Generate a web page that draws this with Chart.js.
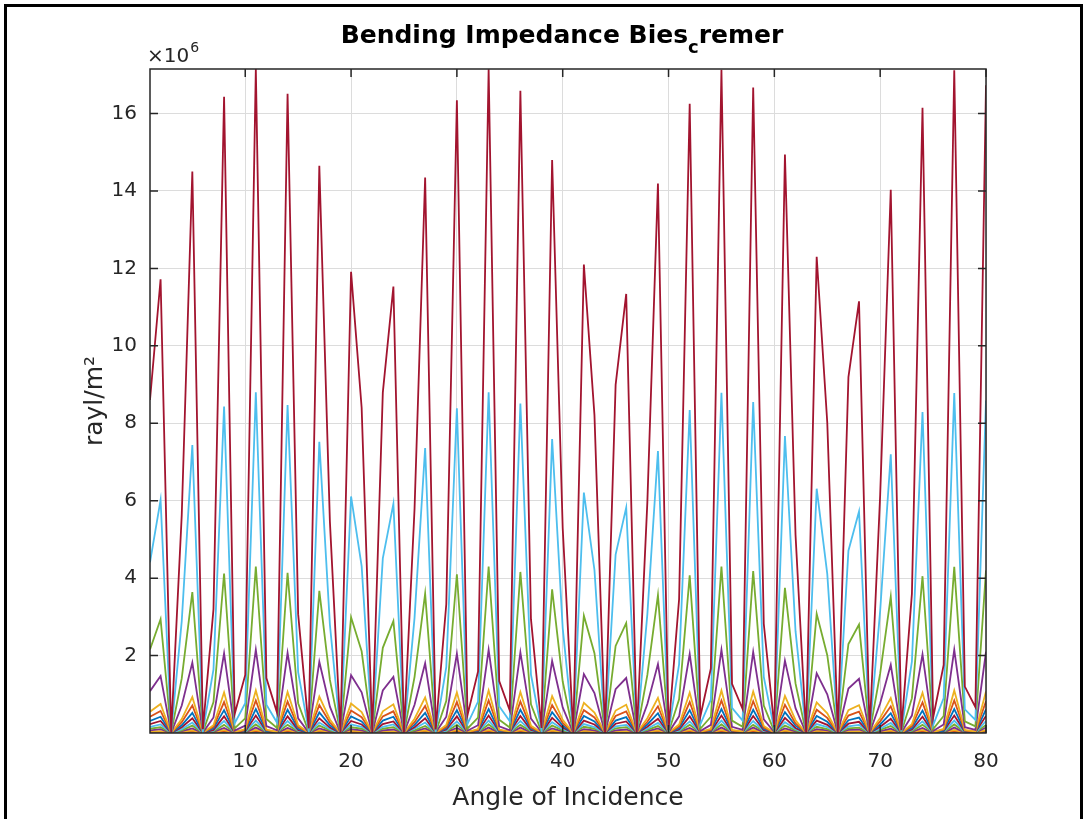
<!DOCTYPE html>
<html>
<head>
<meta charset="utf-8">
<title>Bending Impedance Bies-Cremer</title>
<script src="https://cdn.jsdelivr.net/npm/chart.js"></script>
<style>
  html, body { margin: 0; padding: 0; background: #fff; }
  #wrap { position: relative; width: 1086px; height: 819px; overflow: hidden; }
  #myChart { position: absolute; left: 0; top: 0; }
  #frame { position: absolute; left: 4px; top: 4px; width: 1073px; height: 830px;
           border: 3px solid #000; border-bottom: none; pointer-events: none; }
</style>
</head>
<body>
<div id="wrap">
  <canvas id="myChart" width="1086" height="819"></canvas>
  <div id="frame"></div>
</div>
<script>
// angle of incidence (x axis)
const angles = [
  1, 2, 3, 4, 5, 6, 7, 8, 9, 10,
  11, 12, 13, 14, 15, 16, 17, 18, 19, 20,
  21, 22, 23, 24, 25, 26, 27, 28, 29, 30,
  31, 32, 33, 34, 35, 36, 37, 38, 39, 40,
  41, 42, 43, 44, 45, 46, 47, 48, 49, 50,
  51, 52, 53, 54, 55, 56, 57, 58, 59, 60,
  61, 62, 63, 64, 65, 66, 67, 68, 69, 70,
  71, 72, 73, 74, 75, 76, 77, 78, 79, 80
];

const xTicks = [10, 20, 30, 40, 50, 60, 70, 80];
const yTicks = [2, 4, 6, 8, 10, 12, 14, 16];

// impedance curves, in units of 1e6 rayl/m^2 (z1 smallest ... z14 largest)
const z14 = [
  8.60, 11.72, 0.01, 5.63, 14.50, 0.10, 3.20, 16.43, 0.49, 1.50,
  17.15, 1.42, 0.53, 16.51, 3.07, 0.12, 14.65, 5.46, 0.01, 11.91,
  8.40, 0.00, 8.79, 11.53, 0.01, 5.80, 14.35, 0.09, 3.33, 16.34,
  0.46, 1.59, 17.14, 1.34, 0.58, 16.59, 2.94, 0.13, 14.80, 5.29,
  0.01, 12.10, 8.21, 0.00, 8.99, 11.34, 0.00, 5.97, 14.19, 0.08,
  3.46, 16.25, 0.42, 1.67, 17.13, 1.27, 0.62, 16.67, 2.82, 0.15,
  14.94, 5.12, 0.01, 12.30, 8.02, 0.00, 9.19, 11.15, 0.00, 6.15,
  14.03, 0.07, 3.60, 16.15, 0.39, 1.76, 17.12, 1.20, 0.67, 16.73
];
const z13 = [
  4.41, 6.02, 0.00, 2.89, 7.44, 0.05, 1.64, 8.43, 0.25, 0.77,
  8.80, 0.73, 0.27, 8.47, 1.57, 0.06, 7.52, 2.80, 0.00, 6.11,
  4.31, 0.00, 4.51, 5.92, 0.00, 2.98, 7.36, 0.05, 1.71, 8.39,
  0.23, 0.81, 8.80, 0.69, 0.30, 8.51, 1.51, 0.07, 7.59, 2.71,
  0.01, 6.21, 4.21, 0.00, 4.61, 5.82, 0.00, 3.07, 7.28, 0.04,
  1.78, 8.34, 0.22, 0.86, 8.79, 0.65, 0.32, 8.55, 1.45, 0.08,
  7.67, 2.63, 0.01, 6.31, 4.11, 0.00, 4.71, 5.72, 0.00, 3.16,
  7.20, 0.04, 1.85, 8.29, 0.20, 0.90, 8.78, 0.61, 0.34, 8.59
];
const z12 = [
  2.16, 2.94, 0.00, 1.41, 3.64, 0.03, 0.80, 4.12, 0.12, 0.38,
  4.30, 0.36, 0.13, 4.14, 0.77, 0.03, 3.67, 1.37, 0.00, 2.99,
  2.11, 0.00, 2.20, 2.89, 0.00, 1.45, 3.60, 0.02, 0.83, 4.10,
  0.11, 0.40, 4.30, 0.34, 0.14, 4.16, 0.74, 0.03, 3.71, 1.33,
  0.00, 3.03, 2.06, 0.00, 2.25, 2.84, 0.00, 1.50, 3.56, 0.02,
  0.87, 4.07, 0.11, 0.42, 4.30, 0.32, 0.16, 4.18, 0.71, 0.04,
  3.75, 1.28, 0.00, 3.08, 2.01, 0.00, 2.30, 2.80, 0.00, 1.54,
  3.52, 0.02, 0.90, 4.05, 0.10, 0.44, 4.29, 0.30, 0.17, 4.20
];
const z11 = [
  1.08, 1.47, 0.00, 0.71, 1.82, 0.01, 0.40, 2.06, 0.06, 0.19,
  2.15, 0.18, 0.07, 2.07, 0.38, 0.01, 1.84, 0.68, 0.00, 1.49,
  1.05, 0.00, 1.10, 1.45, 0.00, 0.73, 1.80, 0.01, 0.42, 2.05,
  0.06, 0.20, 2.15, 0.17, 0.07, 2.08, 0.37, 0.02, 1.86, 0.66,
  0.00, 1.52, 1.03, 0.00, 1.13, 1.42, 0.00, 0.75, 1.78, 0.01,
  0.43, 2.04, 0.05, 0.21, 2.15, 0.16, 0.08, 2.09, 0.35, 0.02,
  1.87, 0.64, 0.00, 1.54, 1.00, 0.00, 1.15, 1.40, 0.00, 0.77,
  1.76, 0.01, 0.45, 2.03, 0.05, 0.22, 2.15, 0.15, 0.08, 2.10
];
const z10 = [
  0.55, 0.75, 0.00, 0.36, 0.93, 0.01, 0.20, 1.05, 0.03, 0.10,
  1.10, 0.09, 0.03, 1.06, 0.20, 0.01, 0.94, 0.35, 0.00, 0.76,
  0.54, 0.00, 0.56, 0.74, 0.00, 0.37, 0.92, 0.01, 0.21, 1.05,
  0.03, 0.10, 1.10, 0.09, 0.04, 1.06, 0.19, 0.01, 0.95, 0.34,
  0.00, 0.78, 0.53, 0.00, 0.58, 0.73, 0.00, 0.38, 0.91, 0.01,
  0.22, 1.04, 0.03, 0.11, 1.10, 0.08, 0.04, 1.07, 0.18, 0.01,
  0.96, 0.33, 0.00, 0.79, 0.51, 0.00, 0.59, 0.72, 0.00, 0.39,
  0.90, 0.00, 0.23, 1.04, 0.02, 0.11, 1.10, 0.08, 0.04, 1.07
];
const z9 = [
  0.42, 0.57, 0.00, 0.28, 0.71, 0.01, 0.16, 0.80, 0.02, 0.07,
  0.84, 0.07, 0.03, 0.81, 0.15, 0.01, 0.72, 0.27, 0.00, 0.58,
  0.41, 0.00, 0.43, 0.56, 0.00, 0.28, 0.70, 0.00, 0.16, 0.80,
  0.02, 0.08, 0.84, 0.07, 0.03, 0.81, 0.14, 0.01, 0.72, 0.26,
  0.00, 0.59, 0.40, 0.00, 0.44, 0.56, 0.00, 0.29, 0.69, 0.00,
  0.17, 0.80, 0.02, 0.08, 0.84, 0.06, 0.03, 0.82, 0.14, 0.01,
  0.73, 0.25, 0.00, 0.60, 0.39, 0.00, 0.45, 0.55, 0.00, 0.30,
  0.69, 0.00, 0.18, 0.79, 0.02, 0.09, 0.84, 0.06, 0.03, 0.82
];
const z8 = [
  0.31, 0.42, 0.00, 0.20, 0.52, 0.00, 0.12, 0.59, 0.02, 0.05,
  0.62, 0.05, 0.02, 0.60, 0.11, 0.00, 0.53, 0.20, 0.00, 0.43,
  0.30, 0.00, 0.32, 0.42, 0.00, 0.21, 0.52, 0.00, 0.12, 0.59,
  0.02, 0.06, 0.62, 0.05, 0.02, 0.60, 0.11, 0.00, 0.54, 0.19,
  0.00, 0.44, 0.30, 0.00, 0.32, 0.41, 0.00, 0.22, 0.51, 0.00,
  0.13, 0.59, 0.02, 0.06, 0.62, 0.05, 0.02, 0.60, 0.10, 0.01,
  0.54, 0.19, 0.00, 0.44, 0.29, 0.00, 0.33, 0.40, 0.00, 0.22,
  0.51, 0.00, 0.13, 0.58, 0.01, 0.06, 0.62, 0.04, 0.02, 0.61
];
const z7 = [
  0.23, 0.31, 0.00, 0.15, 0.38, 0.00, 0.08, 0.43, 0.01, 0.04,
  0.45, 0.04, 0.01, 0.43, 0.08, 0.00, 0.38, 0.14, 0.00, 0.31,
  0.22, 0.00, 0.23, 0.30, 0.00, 0.15, 0.38, 0.00, 0.09, 0.43,
  0.01, 0.04, 0.45, 0.04, 0.02, 0.44, 0.08, 0.00, 0.39, 0.14,
  0.00, 0.32, 0.22, 0.00, 0.24, 0.30, 0.00, 0.16, 0.37, 0.00,
  0.09, 0.43, 0.01, 0.04, 0.45, 0.03, 0.02, 0.44, 0.07, 0.00,
  0.39, 0.13, 0.00, 0.32, 0.21, 0.00, 0.24, 0.29, 0.00, 0.16,
  0.37, 0.00, 0.09, 0.42, 0.01, 0.05, 0.45, 0.03, 0.02, 0.44
];
const z6 = [
  0.16, 0.22, 0.00, 0.10, 0.27, 0.00, 0.06, 0.31, 0.01, 0.03,
  0.32, 0.03, 0.01, 0.31, 0.06, 0.00, 0.27, 0.10, 0.00, 0.22,
  0.16, 0.00, 0.16, 0.22, 0.00, 0.11, 0.27, 0.00, 0.06, 0.30,
  0.01, 0.03, 0.32, 0.02, 0.01, 0.31, 0.06, 0.00, 0.28, 0.10,
  0.00, 0.23, 0.15, 0.00, 0.17, 0.21, 0.00, 0.11, 0.26, 0.00,
  0.06, 0.30, 0.01, 0.03, 0.32, 0.02, 0.01, 0.31, 0.05, 0.00,
  0.28, 0.10, 0.00, 0.23, 0.15, 0.00, 0.17, 0.21, 0.00, 0.11,
  0.26, 0.00, 0.07, 0.30, 0.01, 0.03, 0.32, 0.02, 0.01, 0.31
];
const z5 = [
  0.11, 0.15, 0.00, 0.07, 0.19, 0.00, 0.04, 0.21, 0.01, 0.02,
  0.22, 0.02, 0.01, 0.21, 0.04, 0.00, 0.19, 0.07, 0.00, 0.15,
  0.11, 0.00, 0.11, 0.15, 0.00, 0.07, 0.18, 0.00, 0.04, 0.21,
  0.01, 0.02, 0.22, 0.02, 0.01, 0.21, 0.04, 0.00, 0.19, 0.07,
  0.00, 0.16, 0.11, 0.00, 0.12, 0.15, 0.00, 0.08, 0.18, 0.00,
  0.04, 0.21, 0.01, 0.02, 0.22, 0.02, 0.01, 0.21, 0.04, 0.00,
  0.19, 0.07, 0.00, 0.16, 0.10, 0.00, 0.12, 0.14, 0.00, 0.08,
  0.18, 0.00, 0.05, 0.21, 0.01, 0.02, 0.22, 0.02, 0.01, 0.21
];
const z4 = [
  0.07, 0.10, 0.00, 0.05, 0.12, 0.00, 0.03, 0.13, 0.00, 0.01,
  0.14, 0.01, 0.00, 0.13, 0.03, 0.00, 0.12, 0.04, 0.00, 0.10,
  0.07, 0.00, 0.07, 0.09, 0.00, 0.05, 0.12, 0.00, 0.03, 0.13,
  0.00, 0.01, 0.14, 0.01, 0.00, 0.14, 0.02, 0.00, 0.12, 0.04,
  0.00, 0.10, 0.07, 0.00, 0.07, 0.09, 0.00, 0.05, 0.12, 0.00,
  0.03, 0.13, 0.00, 0.01, 0.14, 0.01, 0.01, 0.14, 0.02, 0.00,
  0.12, 0.04, 0.00, 0.10, 0.07, 0.00, 0.08, 0.09, 0.00, 0.05,
  0.11, 0.00, 0.03, 0.13, 0.00, 0.01, 0.14, 0.01, 0.01, 0.14
];
const z3 = [
  0.04, 0.05, 0.00, 0.03, 0.07, 0.00, 0.01, 0.08, 0.00, 0.01,
  0.08, 0.01, 0.00, 0.08, 0.01, 0.00, 0.07, 0.03, 0.00, 0.06,
  0.04, 0.00, 0.04, 0.05, 0.00, 0.03, 0.07, 0.00, 0.02, 0.08,
  0.00, 0.01, 0.08, 0.01, 0.00, 0.08, 0.01, 0.00, 0.07, 0.02,
  0.00, 0.06, 0.04, 0.00, 0.04, 0.05, 0.00, 0.03, 0.07, 0.00,
  0.02, 0.08, 0.00, 0.01, 0.08, 0.01, 0.00, 0.08, 0.01, 0.00,
  0.07, 0.02, 0.00, 0.06, 0.04, 0.00, 0.04, 0.05, 0.00, 0.03,
  0.07, 0.00, 0.02, 0.08, 0.00, 0.01, 0.08, 0.01, 0.00, 0.08
];
const z2 = [
  0.03, 0.03, 0.00, 0.02, 0.04, 0.00, 0.01, 0.05, 0.00, 0.00,
  0.05, 0.00, 0.00, 0.05, 0.01, 0.00, 0.04, 0.02, 0.00, 0.03,
  0.02, 0.00, 0.03, 0.03, 0.00, 0.02, 0.04, 0.00, 0.01, 0.05,
  0.00, 0.00, 0.05, 0.00, 0.00, 0.05, 0.01, 0.00, 0.04, 0.02,
  0.00, 0.04, 0.02, 0.00, 0.03, 0.03, 0.00, 0.02, 0.04, 0.00,
  0.01, 0.05, 0.00, 0.00, 0.05, 0.00, 0.00, 0.05, 0.01, 0.00,
  0.04, 0.01, 0.00, 0.04, 0.02, 0.00, 0.03, 0.03, 0.00, 0.02,
  0.04, 0.00, 0.01, 0.05, 0.00, 0.01, 0.05, 0.00, 0.00, 0.05
];
const z1 = [
  0.02, 0.02, 0.00, 0.01, 0.03, 0.00, 0.01, 0.03, 0.00, 0.00,
  0.03, 0.00, 0.00, 0.03, 0.01, 0.00, 0.03, 0.01, 0.00, 0.02,
  0.01, 0.00, 0.02, 0.02, 0.00, 0.01, 0.03, 0.00, 0.01, 0.03,
  0.00, 0.00, 0.03, 0.00, 0.00, 0.03, 0.01, 0.00, 0.03, 0.01,
  0.00, 0.02, 0.01, 0.00, 0.02, 0.02, 0.00, 0.01, 0.02, 0.00,
  0.01, 0.03, 0.00, 0.00, 0.03, 0.00, 0.00, 0.03, 0.00, 0.00,
  0.03, 0.01, 0.00, 0.02, 0.01, 0.00, 0.02, 0.02, 0.00, 0.01,
  0.02, 0.00, 0.01, 0.03, 0.00, 0.00, 0.03, 0.00, 0.00, 0.03
];

// matlab default line colour order
const BLUE = '#0072BD', ORANGE = '#D95319', YELLOW = '#EDB120', PURPLE = '#7E2F8E',
      GREEN = '#77AC30', LBLUE = '#4DBEEE', MAROON = '#A2142F';

// first entry is drawn on top
const curves = [z14, z13, z12, z11, z10, z9, z8, z7, z6, z5, z4, z3, z2, z1];
const curveColors = [MAROON, LBLUE, GREEN, PURPLE, YELLOW, ORANGE, BLUE,
                     MAROON, LBLUE, GREEN, PURPLE, YELLOW, ORANGE, BLUE];

const FONT = 'DejaVu Sans';
const AXIS_COL = '#262626';

// box around the axes, inward ticks, title and the x10^6 multiplier
const axesDecor = {
  id: 'axesDecor',
  afterDatasetsDraw(chart) {
    const {ctx, chartArea: a, scales} = chart;
    const tl = 8;
    ctx.save();
    ctx.strokeStyle = AXIS_COL;
    ctx.lineWidth = 1.5;
    ctx.strokeRect(a.left, a.top, a.right - a.left, a.bottom - a.top);
    ctx.beginPath();
    xTicks.forEach(v => {
      const px = scales.x.getPixelForValue(v);
      ctx.moveTo(px, a.bottom); ctx.lineTo(px, a.bottom - tl);
      ctx.moveTo(px, a.top); ctx.lineTo(px, a.top + tl);
    });
    yTicks.forEach(v => {
      const py = scales.y.getPixelForValue(v);
      ctx.moveTo(a.left, py); ctx.lineTo(a.left + tl, py);
      ctx.moveTo(a.right, py); ctx.lineTo(a.right - tl, py);
    });
    ctx.stroke();
    ctx.restore();
  },
  afterDraw(chart) {
    const {ctx, chartArea: a} = chart;
    ctx.save();
    ctx.textBaseline = 'alphabetic';
    ctx.textAlign = 'left';

    // title with subscript c
    const big = 'bold 25px "' + FONT + '"';
    const small = 'bold 18px "' + FONT + '"';
    const parts = [['Bending Impedance Bies', big, 0], ['c', small, 10], ['remer', big, 0]];
    let total = 0;
    parts.forEach(p => { ctx.font = p[1]; total += ctx.measureText(p[0]).width; });
    let tx = 562 - total / 2;
    ctx.fillStyle = '#000';
    parts.forEach(p => {
      ctx.font = p[1];
      ctx.fillText(p[0], tx, 43 + p[2]);
      tx += ctx.measureText(p[0]).width;
    });

    // exponent label above the y axis
    ctx.fillStyle = AXIS_COL;
    ctx.font = '20px "' + FONT + '"';
    ctx.fillText('\u00d710', a.left - 3, a.top - 7);
    const w = ctx.measureText('\u00d710').width;
    ctx.font = '14px "' + FONT + '"';
    ctx.fillText('6', a.left - 2 + w, a.top - 17);
    ctx.restore();
  }
};

const ctx = document.getElementById('myChart').getContext('2d');
const myChart = new Chart(ctx, {
  type: 'line',
  data: {
    datasets: curves.map((vals, i) => ({
      label: 'z' + (curves.length - i),
      data: vals.map((v, j) => ({x: angles[j], y: v})),
      borderColor: curveColors[i],
      borderWidth: 1.8,
      pointRadius: 0,
      tension: 0,
      fill: false
    }))
  },
  options: {
    responsive: false,
    animation: false,
    layout: {padding: {left: 0, top: 69, right: 100, bottom: 0}},
    plugins: {
      legend: {display: false},
      tooltip: {enabled: false},
      title: {display: false}
    },
    scales: {
      x: {
        type: 'linear',
        min: 1,
        max: 80,
        afterBuildTicks: s => { s.ticks = xTicks.map(v => ({value: v})); },
        afterFit: s => { s.height = 86; },
        border: {display: false},
        grid: {color: '#dcdcdc', lineWidth: 1, drawTicks: false},
        ticks: {padding: 17, color: AXIS_COL, maxRotation: 0, font: {family: FONT, size: 20}},
        title: {
          display: true,
          text: 'Angle of Incidence',
          color: AXIS_COL,
          font: {family: FONT, size: 25},
          padding: {top: 0, bottom: 6}
        }
      },
      y: {
        type: 'linear',
        min: 0,
        max: 17.15,
        afterBuildTicks: s => { s.ticks = yTicks.map(v => ({value: v})); },
        afterFit: s => { s.width = 150; },
        border: {display: false},
        grid: {color: '#dcdcdc', lineWidth: 1, drawTicks: false},
        ticks: {padding: 13, color: AXIS_COL, font: {family: FONT, size: 20}},
        title: {
          display: true,
          text: 'rayl/m\u00b2',
          color: AXIS_COL,
          font: {family: FONT, size: 25},
          padding: {top: 80, bottom: 0}
        }
      }
    }
  },
  plugins: [axesDecor]
});
</script>
</body>
</html>
